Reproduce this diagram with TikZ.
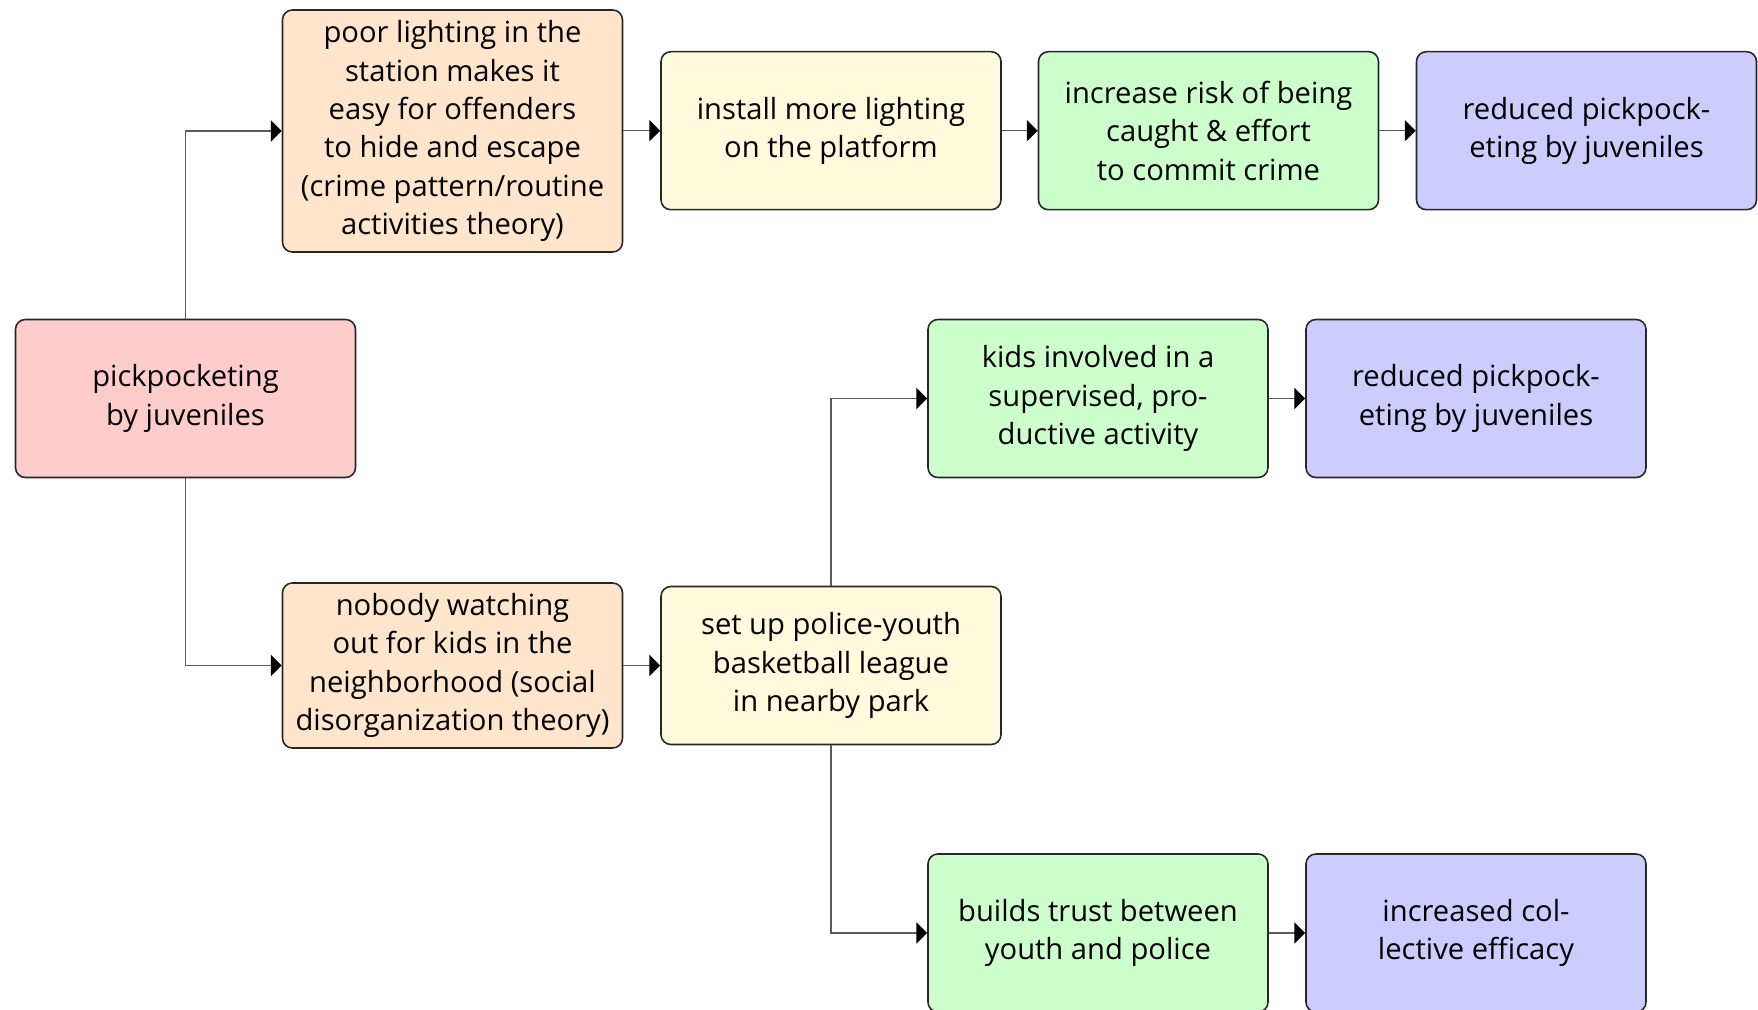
\documentclass[tikz,border=0pt]{standalone}
\usepackage{fontspec}
\setmainfont{Open Sans}
\usetikzlibrary{arrows.meta}
\definecolor{cpink}{RGB}{255,204,204}
\definecolor{cpeach}{RGB}{255,229,204}
\definecolor{cyell}{RGB}{255,250,220}
\definecolor{cgreen}{RGB}{204,255,204}
\definecolor{cblue}{RGB}{204,204,255}
\definecolor{cline}{RGB}{90,90,90}
\tikzset{
  box/.style={draw=black!85, line width=0.45pt, rounded corners=2.8pt, align=center,
    minimum width=34mm, minimum height=15.8mm, inner sep=0pt,
    font=\fontsize{8.3}{10.9}\selectfont},
  conn/.style={draw=cline, line width=0.45pt, -{Triangle[length=3.1pt,width=6pt,color=black]}},
}
\begin{document}
\begin{tikzpicture}[x=0.1mm,y=-0.1mm]
\useasboundingbox (0,0) rectangle (1758,1010);
\node[box, fill=cpink] (A) at (185.5,398.5) {pickpocketing\\by juveniles};
\node[box, fill=cpeach, minimum height=24.2mm] (B) at (452.5,131) {poor lighting in the\\station makes it\\easy for offenders\\to hide and escape\\(crime pattern/routine\\activities theory)};
\node[box, fill=cyell] (C) at (831,130.7) {install more lighting\\on the platform};
\node[box, fill=cgreen] (D) at (1208.5,130.7) {increase risk of being\\caught \& effort\\to commit crime};
\node[box, fill=cblue] (E) at (1586.5,130.7) {reduced pickpock-\\eting by juveniles};
\node[box, fill=cgreen] (F) at (1098,398.5) {kids involved in a\\supervised, pro-\\ductive activity};
\node[box, fill=cblue] (G) at (1476,398.5) {reduced pickpock-\\eting by juveniles};
\node[box, fill=cpeach, minimum height=16.5mm] (H) at (452.5,665.5) {nobody watching\\out for kids in the\\neighborhood (social\\disorganization theory)};
\node[box, fill=cyell] (I) at (831,665.5) {set up police-youth\\basketball league\\in nearby park};
\node[box, fill=cgreen] (J) at (1098,933) {builds trust between\\youth and police};
\node[box, fill=cblue] (K) at (1476,933) {increased col-\\lective efficacy};
\draw[conn] (A.north) |- (B.west);
\draw[conn] (A.south) |- (H.west);
\draw[conn] (B.east |- C.west) -- (C.west);
\draw[conn] (C) -- (D);
\draw[conn] (D) -- (E);
\draw[conn] (F) -- (G);
\draw[conn] (H.east |- I.west) -- (I.west);
\draw[conn] (I.north) |- (F.west);
\draw[conn] (I.south) |- (J.west);
\draw[conn] (J) -- (K);
\end{tikzpicture}
\end{document}
